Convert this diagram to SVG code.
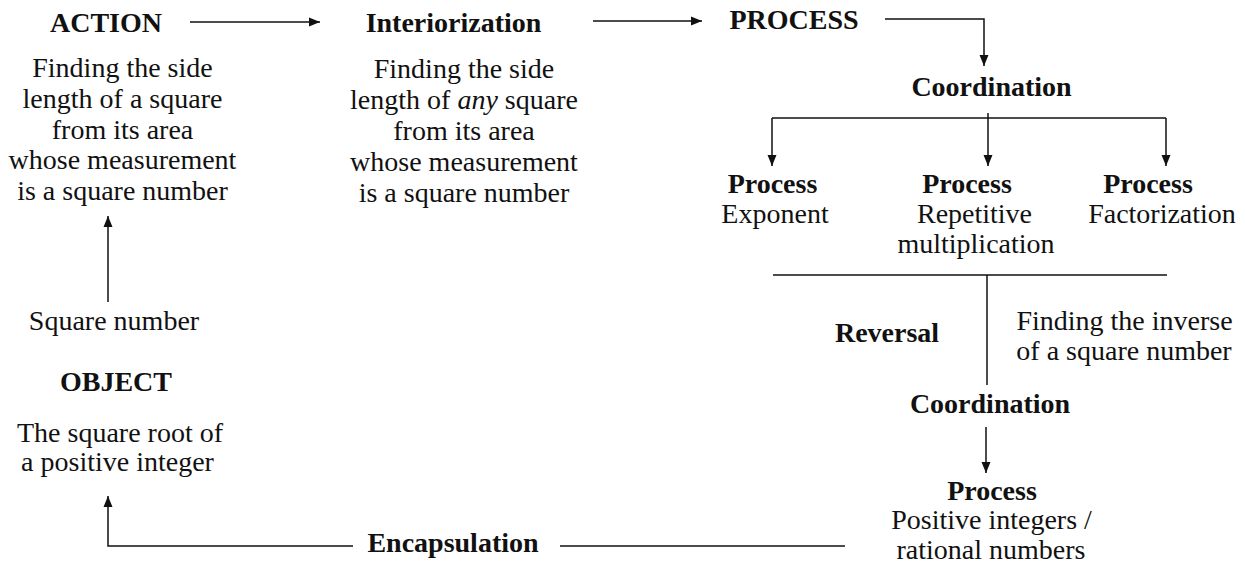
<svg xmlns="http://www.w3.org/2000/svg" width="1245" height="571" viewBox="0 0 1245 571" font-family="Liberation Serif, serif">
<style>
text{font-family:'Liberation Serif',serif;font-size:28px;fill:#111;text-anchor:middle}
.b{font-weight:bold}
.c{fill:none;stroke:#111;stroke-width:1.5}
</style>
<defs>
<marker id="ah" markerUnits="userSpaceOnUse" markerWidth="12" markerHeight="10" refX="11" refY="5" orient="auto">
<path d="M0,0.5 L11,5 L0,9.5 z" fill="#111"/>
</marker>
</defs>
<rect width="1245" height="571" fill="#fff"/>
<g id="connectors">
<line class="c" x1="190" y1="22" x2="320" y2="22" marker-end="url(#ah)"/>
<line class="c" x1="593" y1="21" x2="702" y2="21" marker-end="url(#ah)"/>
<polyline class="c" points="885,19 984,19 984,66" marker-end="url(#ah)"/>
<line class="c" x1="772" y1="118" x2="1166" y2="118"/>
<line class="c" x1="772" y1="118" x2="772" y2="166" marker-end="url(#ah)"/>
<line class="c" x1="988" y1="113" x2="988" y2="166" marker-end="url(#ah)"/>
<line class="c" x1="1166" y1="118" x2="1166" y2="166" marker-end="url(#ah)"/>
<line class="c" x1="773" y1="275" x2="1167" y2="275"/>
<line class="c" x1="987" y1="275" x2="987" y2="385"/>
<line class="c" x1="986" y1="427" x2="986" y2="473" marker-end="url(#ah)"/>
<line class="c" x1="560" y1="546" x2="845" y2="546"/>
<polyline class="c" points="353,546 108,546 108,496" marker-end="url(#ah)"/>
<line class="c" x1="108" y1="302" x2="108" y2="216" marker-end="url(#ah)"/>
</g>
<g id="action">
<text class="b" x="106" y="32">ACTION</text>
<text x="122.5" y="77">Finding the side</text>
<text x="122.5" y="107.5">length of a square</text>
<text x="122.5" y="138.5">from its area</text>
<text x="122.5" y="169">whose measurement</text>
<text x="122.5" y="200">is a square number</text>
</g>
<g id="interiorization">
<text class="b" x="453.5" y="31.5">Interiorization</text>
<text x="464" y="78">Finding the side</text>
<text x="464" y="109">length of <tspan font-style="italic">any</tspan> square</text>
<text x="464" y="140">from its area</text>
<text x="464" y="171">whose measurement</text>
<text x="464" y="202">is a square number</text>
</g>
<g id="process">
<text class="b" x="794" y="29">PROCESS</text>
</g>
<g id="coordination1">
<text class="b" x="991.5" y="96">Coordination</text>
</g>
<g id="process-exponent">
<text class="b" x="772.5" y="193">Process</text>
<text x="775" y="223">Exponent</text>
</g>
<g id="process-repetitive">
<text class="b" x="967" y="193">Process</text>
<text x="974.5" y="223">Repetitive</text>
<text x="976" y="253">multiplication</text>
</g>
<g id="process-factorization">
<text class="b" x="1148" y="193">Process</text>
<text x="1162" y="223">Factorization</text>
</g>
<g id="reversal">
<text class="b" x="887" y="342">Reversal</text>
</g>
<g id="inverse">
<text x="1124.5" y="330">Finding the inverse</text>
<text x="1124" y="360">of a square number</text>
</g>
<g id="coordination2">
<text class="b" x="990" y="413">Coordination</text>
</g>
<g id="process-rational">
<text class="b" x="992" y="500">Process</text>
<text x="991.5" y="529">Positive integers /</text>
<text x="991" y="559">rational numbers</text>
</g>
<g id="encapsulation">
<text class="b" x="453" y="552">Encapsulation</text>
</g>
<g id="square-number">
<text x="114" y="330">Square number</text>
</g>
<g id="object">
<text class="b" x="116" y="391">OBJECT</text>
<text x="120" y="442">The square root of</text>
<text x="117.5" y="471">a positive integer</text>
</g>
</svg>
